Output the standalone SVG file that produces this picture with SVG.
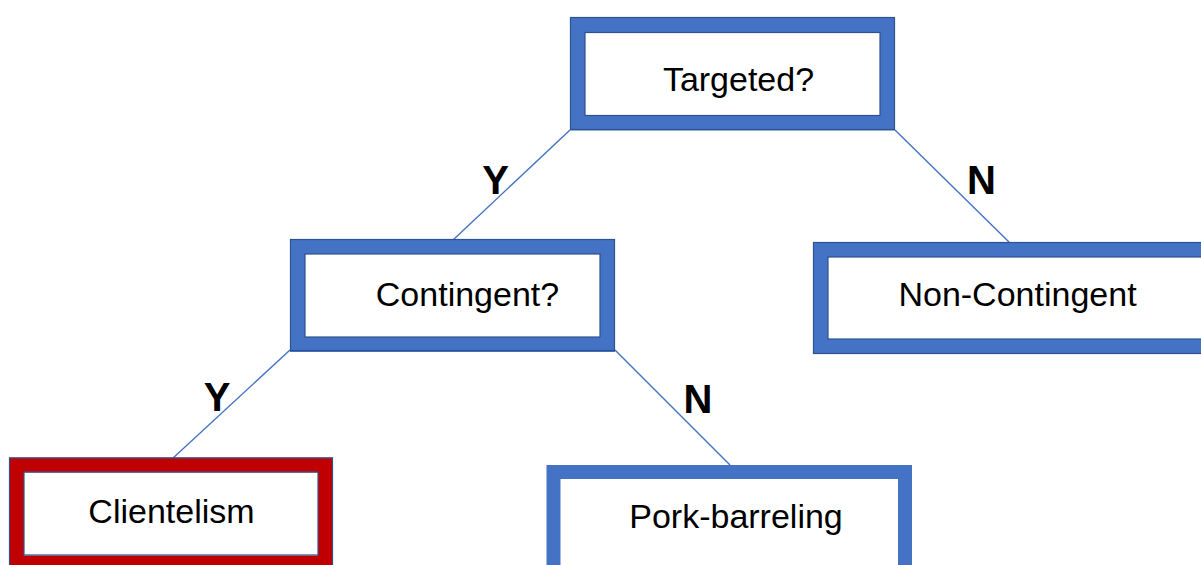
<svg xmlns="http://www.w3.org/2000/svg" width="1201" height="565" viewBox="0 0 1201 565">
<style>
.box{fill:#fff;stroke:#4472C4;stroke-width:15}
.red{stroke:#C00000}
.edge{fill:none;stroke:#2F528F;stroke-width:1.2}
.lbl{font-family:"Liberation Sans",Arial,sans-serif;font-size:34px;fill:#000;text-anchor:middle}
.yn{font-family:"Liberation Sans",Arial,sans-serif;font-size:40px;font-weight:bold;fill:#000;text-anchor:middle}
.conn{stroke:#4472C4;stroke-width:1.4;fill:none}
</style>
<rect width="1201" height="565" fill="#fff"/>
<g id="connectors">
<line class="conn" x1="570" y1="130" x2="453" y2="240"/>
<line class="conn" x1="895" y1="130" x2="1009" y2="242"/>
<line class="conn" x1="290" y1="350" x2="172" y2="459"/>
<line class="conn" x1="615" y1="350" x2="730" y2="465"/>
<text class="yn" x="495.5" y="194">Y</text>
<text class="yn" x="981.5" y="194">N</text>
<text class="yn" x="217" y="411">Y</text>
<text class="yn" x="698" y="413">N</text>
</g>
<g id="targeted">
<rect class="box" x="577.5" y="25" width="310" height="98"/>
<rect class="edge" x="570.5" y="17.5" width="324" height="112"/>
<rect class="edge" x="585" y="32.5" width="295" height="83"/>
<text class="lbl" x="738.5" y="91">Targeted?</text>
</g>
<g id="contingent">
<rect class="box" x="297.5" y="246.5" width="310" height="98"/>
<rect class="edge" x="290.5" y="239.5" width="324" height="111"/>
<rect class="edge" x="305" y="254" width="295" height="83"/>
<text class="lbl" x="467.5" y="306">Contingent?</text>
</g>
<g id="non-contingent">
<rect class="box" x="820.5" y="249.5" width="395" height="97"/>
<rect class="edge" x="813.5" y="242.5" width="410" height="111"/>
<rect class="edge" x="828" y="257" width="380" height="82"/>
<text class="lbl" x="1017.5" y="306">Non-Contingent</text>
</g>
<g id="clientelism">
<rect class="box red" x="16.5" y="465" width="309" height="98"/>
<rect class="edge" x="9.5" y="458" width="323" height="112"/>
<rect class="edge" x="24" y="472" width="294" height="83"/>
<text class="lbl" x="171.5" y="523">Clientelism</text>
</g>
<g id="pork-barreling">
<rect class="box" x="553.5" y="472" width="351.5" height="100" style="stroke-width:14"/>
<text class="lbl" x="736" y="528">Pork-barreling</text>
</g>
</svg>
